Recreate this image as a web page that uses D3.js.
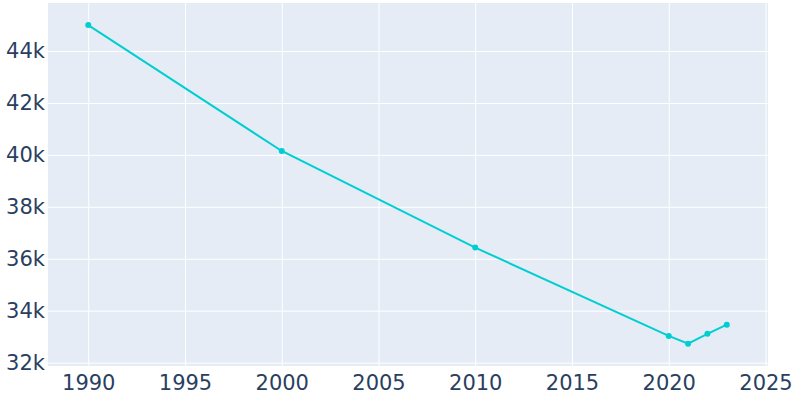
<!DOCTYPE html>
<html>
<head>
<meta charset="utf-8">
<script src="https://cdn.jsdelivr.net/npm/d3@7"></script>
<style>
html,body{margin:0;padding:0;background:#fff;}
svg{display:block;}
</style>
</head>
<body>
<svg id="chart" width="800" height="400"></svg>
<script>
const years = [1990, 2000, 2010, 2020, 2021, 2022, 2023];
const population = [45000, 40150, 36430, 33030, 32730, 33110, 33460];
const xTicks = [1990, 1995, 2000, 2005, 2010, 2015, 2020, 2025];
const yTicks = [32000, 34000, 36000, 38000, 40000, 42000, 44000];

const svg = d3.select("#chart");
const m = {left: 48, top: 3, right: 32, bottom: 34};
const W = 800, H = 400;
const x = d3.scaleLinear().domain([1987.92, 2025.13]).range([m.left, W - m.right]);
const y = d3.scaleLinear().domain([31870, 45850]).range([H - m.bottom, m.top]);

svg.append("rect").attr("x", m.left).attr("y", m.top)
  .attr("width", W - m.right - m.left).attr("height", H - m.bottom - m.top)
  .attr("fill", "#E5ECF6");

const font = "'DejaVu Sans', Verdana, sans-serif";

const gx = svg.append("g").attr("transform", `translate(0,${H - m.bottom})`)
  .call(d3.axisBottom(x).tickValues(xTicks).tickFormat(d3.format("d"))
    .tickSize(-(H - m.bottom - m.top)).tickPadding(9));
gx.select(".domain").remove();
gx.selectAll("line").attr("stroke", "#fff").attr("stroke-width", 1);
gx.selectAll("text").attr("fill", "#2a3f5f").style("font-family", font).style("font-size", "21px");

const gy = svg.append("g").attr("transform", `translate(${m.left},0)`)
  .call(d3.axisLeft(y).tickValues(yTicks).tickFormat(d => (d / 1000) + "k")
    .tickSize(-(W - m.left - m.right)).tickPadding(3));
gy.select(".domain").remove();
gy.selectAll("line").attr("stroke", "#fff").attr("stroke-width", 1);
gy.selectAll("text").attr("fill", "#2a3f5f").style("font-family", font).style("font-size", "21px");

const data = years.map((yr, i) => ({yr, v: population[i]}));
svg.append("path").datum(data)
  .attr("fill", "none").attr("stroke", "#00CED1").attr("stroke-width", 2)
  .attr("d", d3.line().x(d => x(d.yr)).y(d => y(d.v)));
svg.selectAll("circle.pt").data(data).enter().append("circle")
  .attr("class", "pt").attr("cx", d => x(d.yr)).attr("cy", d => y(d.v))
  .attr("r", 3).attr("fill", "#00CED1");
</script>
</body>
</html>
